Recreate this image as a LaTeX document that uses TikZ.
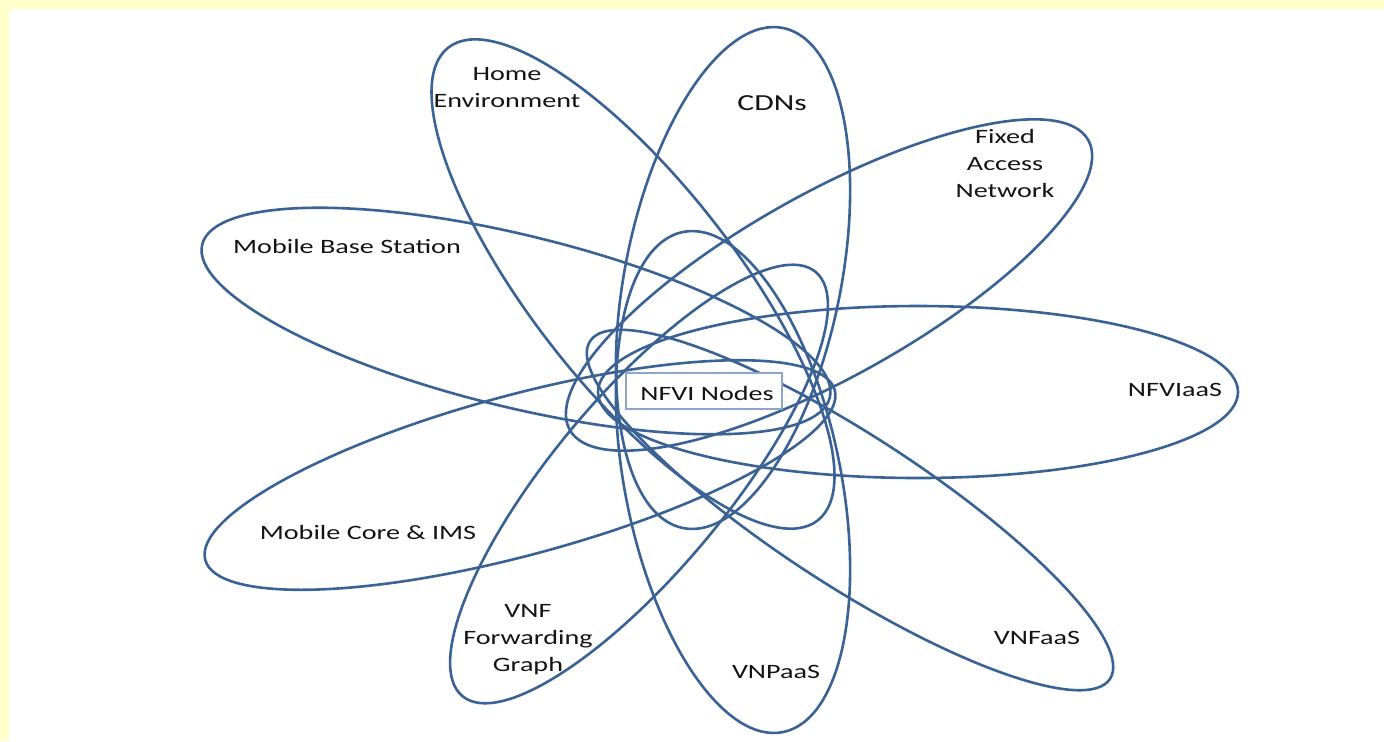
\documentclass[tikz,border=0pt]{standalone}
\usepackage{fontspec}
\newfontfamily\labfont{Carlito}[FakeStretch=1.38]
\usetikzlibrary{shapes.geometric}
\definecolor{petalblue}{RGB}{58,98,148}
\definecolor{bgyellow}{RGB}{255,255,204}
\definecolor{boxblue}{RGB}{140,165,200}
\definecolor{txt}{RGB}{20,20,20}
\tikzset{
 petal/.style={draw=petalblue, line width=1.3pt, ellipse, inner sep=0pt, outer sep=0pt},
 lab/.style={font=\labfont\fontsize{10.2}{13.5}\selectfont, text=txt, align=center, inner sep=0pt},
 biglab/.style={font=\labfont\fontsize{11.5}{14}\selectfont, text=txt, align=center, inner sep=0pt},
 nfvibox/.style={draw=boxblue, line width=0.8pt, fill=white, minimum width=78pt, minimum height=18pt, inner sep=0pt},
}
\begin{document}
\begin{tikzpicture}[x=0.5pt,y=-0.5pt]
\fill[bgyellow] (0,0) rectangle (1384,741);
\fill[white] (9,9) rectangle (1384,741);
\useasboundingbox (0,0) rectangle (1384,741);
% petals
\node[petal, minimum width=255pt, minimum height=108pt, rotate=78.7] (cdnE) at (733,278) {};
\node[petal, minimum width=255pt, minimum height=108pt, rotate=-78.7] (vnpaasE) at (733,482) {};
\node[petal, minimum width=323pt, minimum height=86pt, rotate=-13.7] (mbsE) at (516,321) {};
\node[petal, minimum width=326pt, minimum height=80pt, rotate=15.1] (mciE) at (520,475) {};
\node[petal, minimum width=320pt, minimum height=86pt, rotate=0] (nfviaasE) at (918,392) {};
\node[petal, minimum width=297pt, minimum height=92pt, rotate=29.2] (fanE) at (829,285) {};
\node[petal, minimum width=310pt, minimum height=75pt, rotate=-33] (vnfaasE) at (850,510) {};
\node[petal, minimum width=276pt, minimum height=87pt, rotate=50.2] (vnffgE) at (639,484) {};
\node[petal, minimum width=300pt, minimum height=102pt, rotate=-52] (heE) at (633,284) {};
% labels
\node[lab] (he) at (507,88) {Home\\Environment};
\node[biglab] (cdn) at (772,103) {CDNs};
\node[lab] (fan) at (1005,163) {Fixed\\Access\\Network};
\node[lab] (mbs) at (347,246) {Mobile Base Station};
\node[lab] (nfviaas) at (1175,390) {NFVIaaS};
\node[lab] (mci) at (368,532) {Mobile Core \& IMS};
\node[lab] (vnffg) at (528,640) {VNF\\Forwarding\\Graph};
\node[lab] (vnpaas) at (776,672) {VNPaaS};
\node[lab] (vnfaas) at (1037,638) {VNFaaS};
\node[nfvibox] (nfvibx) at (704,391) {};
\node[lab] (nfvi) at (707,393) {NFVI Nodes};
\end{tikzpicture}
\end{document}
